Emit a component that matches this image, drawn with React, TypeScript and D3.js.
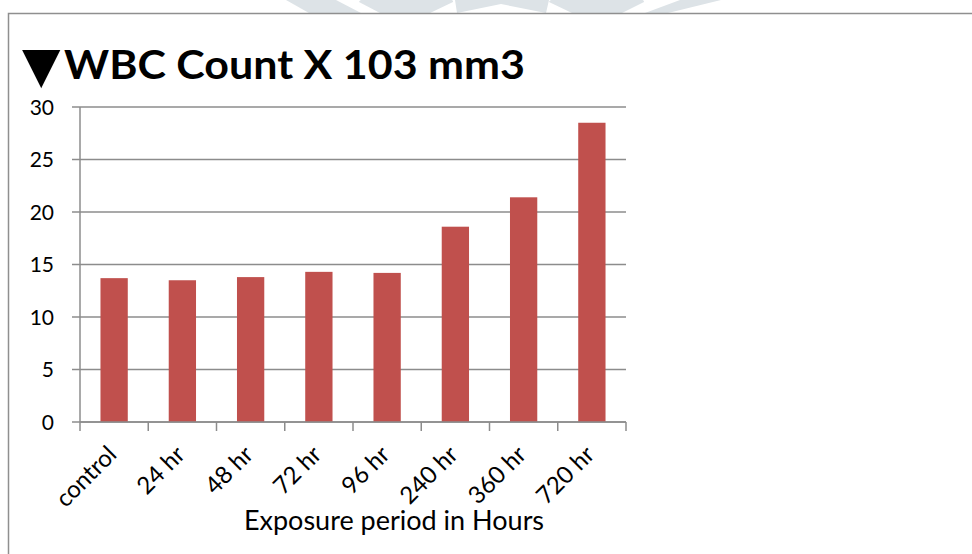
import React from "react";
import * as d3 from "d3";

const categories = ["control", "24 hr", "48 hr", "72 hr", "96 hr", "240 hr", "360 hr", "720 hr"];
const values = [13.7, 13.5, 13.8, 14.3, 14.2, 18.6, 21.4, 28.5];
const yTicks = [0, 5, 10, 15, 20, 25, 30];
const titleText = "WBC Count X 103 mm3";
const xTitle = "Exposure period in Hours";

const W = 972;
const H = 554;
const left = 80;
const right = 626;
const top = 107;
const bottom = 422;

export default function App() {
  const x = d3.scaleBand<string>().domain(categories).range([left, right]).paddingInner(0.6).paddingOuter(0.3);
  const xb = d3.scaleBand<string>().domain(categories).range([left, right]);
  const y = d3.scaleLinear().domain([0, 30]).range([bottom, top]);
  const font = "Lato, 'Open Sans', sans-serif";
  const grid = "#8c8c8c";
  const wm = "#dde3e7";
  return (
    <svg width={W} height={H} style={{ position: "absolute", left: 0, top: 0, background: "#fff" }}>
      {/* watermark fragments */}
      <g fill={wm}>
        <polygon points="286,0 336,0 361,13 309,13" />
        <path d="M359,2 Q360,-4 405,-4 Q455,-4 453,2 L430,13 L380,13 Z" />
        <path d="M455,0 L549,0 L546,13 L501,4 L457,13 Z" />
        <path d="M549,2 Q550,-4 597,-4 Q645,-4 644,2 L622,13 L572,13 Z" />
        <polygon points="680,0 721,0 668,13 645,13" />
      </g>
      {/* frame */}
      <path d={`M8.5,${H} L8.5,13.5 L${W},13.5`} fill="none" stroke="#8f8f8f" strokeWidth={1.5} />
      {/* title */}
      <text x={22} y={82} fontFamily="'DejaVu Sans', sans-serif" fontSize={50} fill="#000">▼</text>
      <text x={64} y={79} fontFamily={font} fontWeight="bold" fontSize={40} fill="#000" textLength={461} lengthAdjust="spacingAndGlyphs">
        {titleText}
      </text>
      {/* gridlines */}
      {yTicks.map((t) => (
        <line key={"g" + t} x1={left - 8} x2={right} y1={y(t)} y2={y(t)} stroke={grid} strokeWidth={1.5} />
      ))}
      {/* y axis */}
      <line x1={left} x2={left} y1={top} y2={bottom} stroke={grid} strokeWidth={1.5} />
      {yTicks.map((t) => (
        <text key={"yt" + t} x={54} y={y(t)} dy="0.36em" textAnchor="end" fontFamily={font} fontSize={21} fill="#000">
          {t}
        </text>
      ))}
      {/* bars */}
      {categories.map((c, i) => (
        <rect key={c} x={x(c)} y={y(values[i])} width={x.bandwidth()} height={y(0) - y(values[i])} fill="#C0504D" />
      ))}
      {/* x axis */}
      <line x1={left} x2={right} y1={bottom} y2={bottom} stroke={grid} strokeWidth={1.5} />
      {categories.concat([""]).map((c, i) => {
        const px = left + i * xb.step();
        return <line key={"xt" + i} x1={px} x2={px} y1={bottom} y2={bottom + 9} stroke={grid} strokeWidth={1.5} />;
      })}
      {categories.map((c) => {
        const cx = (xb(c) as number) + xb.bandwidth() / 2 + 4;
        const cy = 456;
        return (
          <text key={"xl" + c} x={cx} y={cy} transform={`rotate(-45 ${cx} ${cy})`} textAnchor="end" fontFamily={font} fontSize={24} fill="#000">
            {c}
          </text>
        );
      })}
      <text x={394} y={530} textAnchor="middle" fontFamily={font} fontSize={27} fill="#000">
        {xTitle}
      </text>
    </svg>
  );
}
